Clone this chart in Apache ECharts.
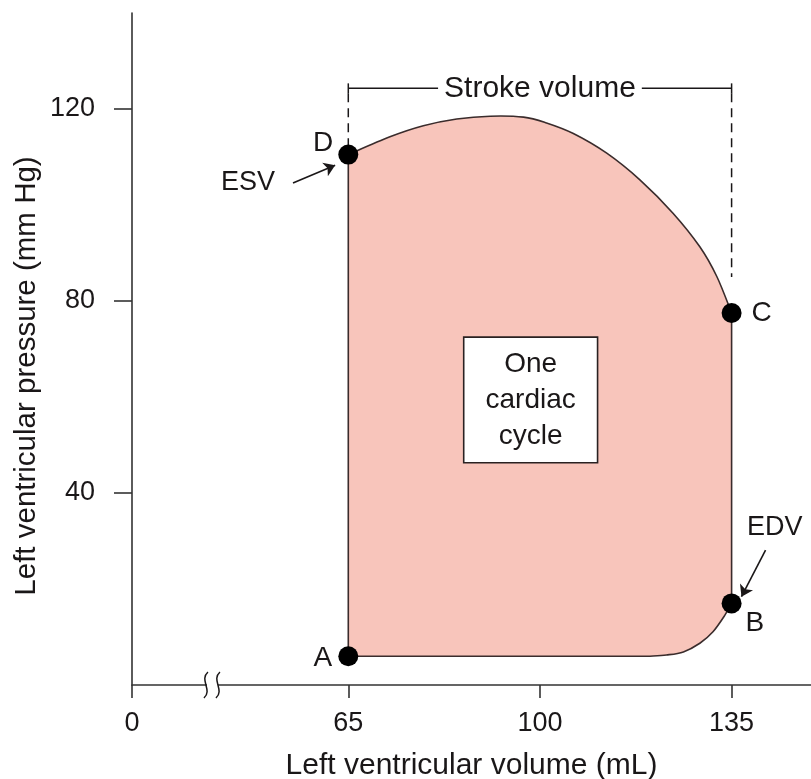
<!DOCTYPE html>
<html>
<head>
<meta charset="utf-8">
<script src="https://cdn.jsdelivr.net/npm/echarts@6.0.0/dist/echarts.min.js"></script>
<style>
  html, body { margin: 0; padding: 0; background: #fff; }
  #chart { width: 811px; height: 779px; }
</style>
</head>
<body>
<div id="chart"></div>
<script>
// ---------- data ----------
const volumeTickLabels = [0, 65, 100, 135];      // x tick labels (mL)
const pressureTickLabels = [40, 80, 120];        // y tick labels (mm Hg)
const AXIS_START = 25.5;                          // broken axis: its start is labelled 0
const AXIS_END = 149.5;

// upper ejection curve D -> C
const topCurveX = [65, 72.6, 78.7, 84.8, 90.9, 97.0, 101.2, 106.1, 112.2, 118.3, 124.3, 129.2, 132.3, 135];
const topCurveY = [110.5, 114.2, 116.5, 117.9, 118.5, 118.3, 117.1, 114.9, 110.8, 105.2, 98.3, 91.3, 85.1, 77.5];
// filling curve B -> A
const bottomCurveX = [135, 133.8, 131.6, 129.2, 126.2, 123.1, 120.1];
const bottomCurveY = [17, 14.6, 11.1, 8.7, 6.9, 6.25, 6.0];

const pointNames = ['A', 'B', 'C', 'D'];
const pointX = [65, 135, 135, 65];
const pointY = [6, 17, 77.5, 110.5];

const strokeVolumeX = [65, 135];
const strokeVolumeLevel = 124.3;
const dashEndY = [110.5, 85];

const noteNames = ['ESV', 'EDV'];
const noteX = [46.7, 142.9];
const noteY = [104.6, 32.7];
const arrowFromX = [54.9, 141.2];
const arrowFromY = [104.6, 28.1];
const arrowToX = [62.6, 136.8];
const arrowToY = [108.3, 18.4];

const boxText = ['One', 'cardiac', 'cycle'];
const boxX = 98.3, boxY = 59.4;
const axisBreakX = 40.1;

// ---------- chart ----------
const FONT = '"Liberation Sans", Arial, Helvetica, sans-serif';
const INK = '#1a1718';
const chart = echarts.init(document.getElementById('chart'));

function spline(pts) {
  let d = '';
  for (let i = 0; i < pts.length - 1; i++) {
    const p0 = pts[i - 1] || pts[i], p1 = pts[i], p2 = pts[i + 1], p3 = pts[i + 2] || pts[i + 1];
    const c1 = [p1[0] + (p2[0] - p0[0]) / 6, p1[1] + (p2[1] - p0[1]) / 6];
    const c2 = [p2[0] - (p3[0] - p1[0]) / 6, p2[1] - (p3[1] - p1[1]) / 6];
    d += ' C' + c1[0] + ' ' + c1[1] + ' ' + c2[0] + ' ' + c2[1] + ' ' + p2[0] + ' ' + p2[1];
  }
  return d;
}

const loopSeries = {
  type: 'custom',
  z: 2,
  silent: true,
  data: [0],
  renderItem: function (params, api) {
    const top = topCurveX.map((x, i) => api.coord([x, topCurveY[i]]));
    const bot = bottomCurveX.map((x, i) => api.coord([x, bottomCurveY[i]]));
    const A = api.coord([pointX[0], pointY[0]]);
    let d = 'M' + A[0] + ' ' + A[1] + ' L' + top[0][0] + ' ' + top[0][1];
    d += spline(top);
    d += ' L' + bot[0][0] + ' ' + bot[0][1];
    d += spline(bot);
    d += ' L' + A[0] + ' ' + A[1] + ' Z';
    return {
      type: 'path',
      shape: { pathData: d },
      style: { fill: '#f8c5bb', stroke: '#3a2c2c', lineWidth: 1.6 }
    };
  }
};

const bracketSeries = {
  type: 'custom',
  z: 3,
  silent: true,
  data: [0],
  renderItem: function (params, api) {
    const L = api.coord([strokeVolumeX[0], strokeVolumeLevel]);
    const R = api.coord([strokeVolumeX[1], strokeVolumeLevel]);
    const Ld = api.coord([strokeVolumeX[0], dashEndY[0]]);
    const Rd = api.coord([strokeVolumeX[1], dashEndY[1]]);
    const mid = api.coord([(strokeVolumeX[0] + strokeVolumeX[1]) / 2, strokeVolumeLevel]);
    const solid = { stroke: INK, lineWidth: 1.5 };
    const dash = { stroke: INK, lineWidth: 1.5, lineDash: [9, 6] };
    return {
      type: 'group',
      children: [
        { type: 'line', shape: { x1: L[0], y1: L[1], x2: R[0], y2: R[1] }, style: solid },
        { type: 'line', shape: { x1: L[0], y1: L[1] - 5, x2: L[0], y2: L[1] + 5 }, style: solid },
        { type: 'line', shape: { x1: R[0], y1: R[1] - 5, x2: R[0], y2: R[1] + 5 }, style: solid },
        { type: 'line', shape: { x1: L[0], y1: L[1] + 5, x2: Ld[0], y2: Ld[1] }, style: dash },
        { type: 'line', shape: { x1: R[0], y1: R[1] + 5, x2: Rd[0], y2: Rd[1] }, style: dash },
        {
          type: 'text', x: mid[0], y: mid[1],
          style: {
            text: 'Stroke volume', align: 'center', verticalAlign: 'middle',
            font: '30px ' + FONT, fill: INK,
            backgroundColor: '#fff', padding: [2, 6]
          }
        }
      ]
    };
  }
};

const breakSeries = {
  type: 'custom',
  z: 4,
  silent: true,
  clip: false,
  data: [0],
  renderItem: function (params, api) {
    const p = api.coord([axisBreakX, 0]);
    const x = p[0], y = p[1];
    const s = function (cx) {
      return 'M' + (cx + 2) + ' ' + (y - 13) + ' C' + (cx - 7) + ' ' + (y - 5) + ' ' + (cx + 7) + ' ' + (y + 5) + ' ' + (cx - 2) + ' ' + (y + 13);
    };
    return {
      type: 'group',
      children: [
        { type: 'rect', shape: { x: x - 5, y: y - 3, width: 11, height: 6 }, style: { fill: '#fff' } },
        { type: 'path', shape: { pathData: s(x - 6) }, style: { stroke: INK, lineWidth: 1.5, fill: null } },
        { type: 'path', shape: { pathData: s(x + 6) }, style: { stroke: INK, lineWidth: 1.5, fill: null } }
      ]
    };
  }
};

const labelPos = {
  A: { position: 'left', distance: 6, offset: [0, 2] },
  B: { position: 'right', distance: 4, offset: [0, 20] },
  C: { position: 'right', distance: 10, offset: [0, 0] },
  D: { position: 'left', distance: 5, offset: [0, -11] }
};

const pointSeries = {
  type: 'scatter',
  z: 6,
  symbol: 'circle',
  symbolSize: 20,
  itemStyle: { color: '#000', opacity: 1 },
  silent: true,
  data: pointNames.map((n, i) => ({
    name: n,
    value: [pointX[i], pointY[i]],
    label: Object.assign({ show: true, formatter: n, fontSize: 28, fontFamily: FONT, color: INK }, labelPos[n])
  }))
};

const arrowSeries = {
  type: 'lines',
  coordinateSystem: 'cartesian2d',
  z: 5,
  silent: true,
  symbol: ['none', 'arrow'],
  symbolSize: 11,
  lineStyle: { color: INK, width: 1.6, opacity: 1 },
  data: noteNames.map((n, i) => ({
    coords: [[arrowFromX[i], arrowFromY[i]], [arrowToX[i], arrowToY[i]]]
  }))
};

const textSeries = {
  type: 'scatter',
  z: 7,
  silent: true,
  symbolSize: 1,
  itemStyle: { color: 'rgba(0,0,0,0)', opacity: 1 },
  data: noteNames.map((n, i) => ({
    value: [noteX[i], noteY[i]],
    label: { show: true, position: 'inside', formatter: n, fontSize: 27, fontFamily: FONT, color: INK }
  })).concat([{
    value: [boxX, boxY],
    label: {
      show: true, position: 'inside', formatter: boxText.join('\n'),
      fontSize: 28, lineHeight: 36, fontFamily: FONT, color: INK, align: 'center',
      backgroundColor: '#fff', borderColor: '#2a2222', borderWidth: 1.6, padding: [8, 21]
    }
  }])
};

chart.setOption({
  animation: false,
  backgroundColor: '#fff',
  grid: { left: 132, right: 0, top: 13, bottom: 94, containLabel: false, outerBoundsMode: 'none' },
  xAxis: {
    type: 'value',
    min: AXIS_START,
    max: AXIS_END,
    name: 'Left ventricular volume (mL)',
    nameLocation: 'middle',
    nameGap: 66,
    nameMoveOverlap: false,
    nameTextStyle: { fontSize: 30, fontFamily: FONT, color: INK },
    axisLine: { show: true, onZero: false, lineStyle: { color: '#333', width: 1.6 } },
    axisTick: {
      show: true, length: 13, lineStyle: { color: '#333', width: 1.6 },
      customValues: volumeTickLabels.map(v => (v === 0 ? AXIS_START : v))
    },
    axisLabel: {
      fontSize: 27, fontFamily: FONT, color: INK, margin: 25,
      customValues: volumeTickLabels.map(v => (v === 0 ? AXIS_START : v)),
      formatter: v => (v === AXIS_START ? '0' : String(v))
    },
    splitLine: { show: false }
  },
  yAxis: {
    type: 'value',
    min: 0,
    max: 140,
    interval: 40,
    name: 'Left ventricular pressure (mm Hg)',
    nameLocation: 'middle',
    nameRotate: 90,
    nameGap: 90,
    nameMoveOverlap: false,
    nameTextStyle: { fontSize: 29.5, fontFamily: FONT, color: INK, padding: [0, 54, 0, 0] },
    axisLine: { show: true, onZero: false, lineStyle: { color: '#333', width: 1.6 } },
    axisTick: { show: true, length: 18, lineStyle: { color: '#333', width: 1.6 }, customValues: pressureTickLabels },
    axisLabel: { fontSize: 27, fontFamily: FONT, color: INK, margin: 37, customValues: pressureTickLabels },
    splitLine: { show: false }
  },
  series: [loopSeries, bracketSeries, arrowSeries, pointSeries, textSeries, breakSeries]
});
</script>
</body>
</html>
